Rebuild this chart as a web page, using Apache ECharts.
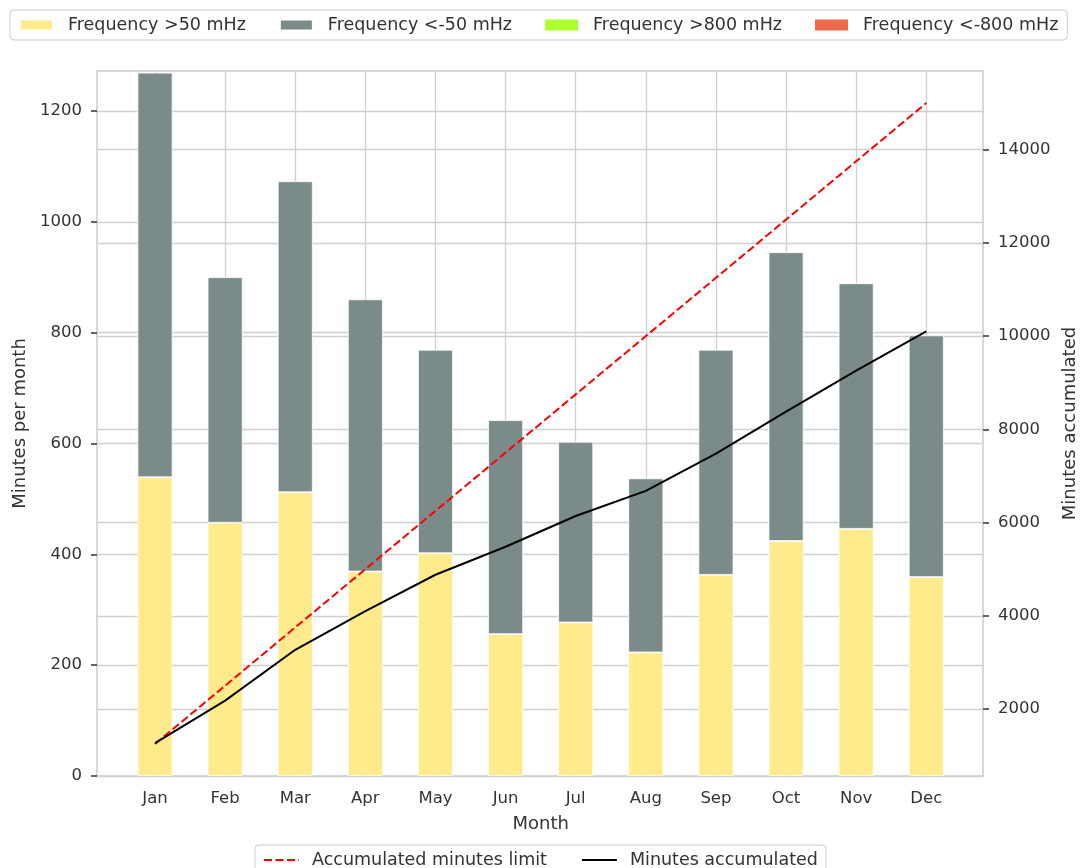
<!DOCTYPE html>
<html>
<head>
<meta charset="utf-8">
<script src="https://cdn.jsdelivr.net/npm/echarts@6/dist/echarts.min.js"></script>
<style>
  html, body { margin: 0; padding: 0; background: #fff; }
  #chart { width: 1080px; height: 868px; }
</style>
</head>
<body>
<div id="chart"></div>
<script>
// 月份 / 数据
const months = ['Jan', 'Feb', 'Mar', 'Apr', 'May', 'Jun', 'Jul', 'Aug', 'Sep', 'Oct', 'Nov', 'Dec'];
const freqOver50 = [539, 457, 512, 369, 402, 256, 277, 223, 363, 424, 446, 359];
const freqUnder50 = [730, 443, 561, 491, 367, 386, 326, 314, 406, 521, 443, 436];
const freqOver800 = [0, 0, 0, 0, 0, 0, 0, 0, 0, 0, 0, 0];
const freqUnder800 = [0, 0, 0, 0, 0, 0, 0, 0, 0, 0, 0, 0];
const limitAccumulated = [1250, 2500, 3750, 5000, 6250, 7500, 8750, 10000, 11250, 12500, 13750, 15000];
const minutesAccumulated = [1270, 2180, 3270, 4100, 4880, 5480, 6140, 6680, 7480, 8380, 9260, 10100];
const leftTicks = [0, 200, 400, 600, 800, 1000, 1200];
const rightTicks = [2000, 4000, 6000, 8000, 10000, 12000, 14000];

const textColor = '#333';
const gridColor = '#d0d0d0';
const fontFamily = 'DejaVu Sans';

// axis ranges shared by the visible and the hidden axes
const leftMin = 0;
const leftMax = 1272;
const rightMin = 562.5;
const rightMax = 15687.5;

const chart = echarts.init(document.getElementById('chart'), null, { renderer: 'canvas' });

// 柱状图
const barSeries = (name, data, color, border) => ({
  name,
  type: 'bar',
  stack: 'freq',
  xAxisIndex: 2,
  yAxisIndex: 3,
  barWidth: 35,
  data,
  itemStyle: { color, borderColor: '#fff', borderWidth: border },
  z: 2,
});

const legendBase = {
  itemHeight: 11,
  borderColor: '#cccccc',
  borderWidth: 1,
  borderRadius: 4,
};

const option = {
  animation: false,
  backgroundColor: '#fff',
  textStyle: { fontFamily },
  grid: [
    // frame + y axes
    {
      left: 97, right: 97, top: 71, bottom: 92,
      show: true, borderColor: '#cccccc', borderWidth: 1.5,
      outerBoundsMode: 'none',
    },
    // vertical grid lines and month labels (Jan..Dec centres)
    {
      left: 155, right: 153.7, top: 71, bottom: 92,
      show: false,
      outerBoundsMode: 'none',
    },
    // bars and lines
    {
      left: 119.97, right: 118.67, top: 71, bottom: 92,
      show: false,
      outerBoundsMode: 'none',
    },
  ],
  legend: [
    Object.assign({}, legendBase, {
      data: ['Frequency >50 mHz', 'Frequency <-50 mHz', 'Frequency >800 mHz', 'Frequency <-800 mHz'],
      left: 10,
      top: 10,
      icon: 'rect',
      itemWidth: 33,
      itemGap: 33,
      padding: [6, 9],
      textStyle: { fontSize: 17.5, color: textColor, fontFamily, padding: [0, 0, 0, 10] },
    }),
    Object.assign({}, legendBase, {
      data: ['Accumulated minutes limit', 'Minutes accumulated'],
      left: 255,
      top: 845,
      itemWidth: 35,
      itemGap: 34,
      padding: [6, 8],
      itemStyle: { opacity: 0 },
      textStyle: { fontSize: 17.5, color: textColor, fontFamily, padding: [0, 0, 0, 8] },
    }),
  ],
  xAxis: [
    {
      type: 'value',
      gridIndex: 0,
      min: 0,
      max: 1,
      show: false,
    },
    {
      type: 'value',
      gridIndex: 1,
      min: 0,
      max: 11,
      interval: 1,
      axisLine: { show: false },
      axisTick: { show: false },
      axisLabel: {
        margin: 14,
        fontSize: 16.5,
        color: textColor,
        fontFamily,
        formatter: (v) => months[v] || '',
      },
      splitLine: { show: true, lineStyle: { color: gridColor, width: 1.3 } },
      name: 'Month',
      nameLocation: 'middle',
      nameGap: 39,
      nameTextStyle: { fontSize: 18, color: textColor, fontFamily },
    },
    {
      type: 'category',
      gridIndex: 2,
      data: months,
      boundaryGap: true,
      show: false,
    },
  ],
  yAxis: [
    {
      type: 'value',
      gridIndex: 0,
      position: 'left',
      min: leftMin,
      max: leftMax,
      interval: 200,
      axisLine: { show: false, onZero: false },
      axisTick: { show: true, length: 6, customValues: leftTicks, lineStyle: { color: textColor, width: 1.5 } },
      axisLabel: {
        customValues: leftTicks, margin: 15, fontSize: 16.5, color: textColor, fontFamily,
        formatter: (v) => String(v),
      },
      splitLine: { show: true, lineStyle: { color: gridColor, width: 1.3 } },
      name: 'Minutes per month',
      nameLocation: 'middle',
      nameGap: 60,
      nameTextStyle: { fontSize: 18, color: textColor, fontFamily },
    },
    {
      type: 'value',
      gridIndex: 0,
      position: 'right',
      min: rightMin,
      max: rightMax,
      splitNumber: 7,
      minInterval: 2000,
      maxInterval: 2000,
      axisLine: { show: false, onZero: false },
      axisTick: { show: true, length: 6, customValues: rightTicks, lineStyle: { color: textColor, width: 1.5 } },
      axisLabel: {
        customValues: rightTicks, margin: 15, fontSize: 16.5, color: textColor, fontFamily,
        formatter: (v) => String(v),
      },
      splitLine: { show: true, lineStyle: { color: gridColor, width: 1.3 } },
      name: 'Minutes accumulated',
      nameLocation: 'middle',
      nameGap: 70,
      nameTextStyle: { fontSize: 18, color: textColor, fontFamily },
    },
    {
      type: 'value',
      gridIndex: 1,
      min: 0,
      max: 1,
      show: false,
    },
    {
      type: 'value',
      gridIndex: 2,
      min: leftMin,
      max: leftMax,
      show: false,
    },
    {
      type: 'value',
      gridIndex: 2,
      min: rightMin,
      max: rightMax,
      show: false,
    },
  ],
  series: [
    barSeries('Frequency >50 mHz', freqOver50, '#ffeb8c', 0.8),
    barSeries('Frequency <-50 mHz', freqUnder50, '#7b8b89', 0.8),
    barSeries('Frequency >800 mHz', freqOver800, '#adff2f', 0),
    barSeries('Frequency <-800 mHz', freqUnder800, '#ee6a4f', 0),
    {
      name: 'Accumulated minutes limit',
      type: 'line',
      xAxisIndex: 2,
      yAxisIndex: 4,
      data: limitAccumulated,
      symbol: 'none',
      lineStyle: { color: '#ff0000', width: 2, type: [8, 3.5] },
      itemStyle: { color: '#ff0000' },
      z: 3,
    },
    {
      name: 'Minutes accumulated',
      type: 'line',
      xAxisIndex: 2,
      yAxisIndex: 4,
      data: minutesAccumulated,
      symbol: 'none',
      lineStyle: { color: '#000', width: 2 },
      itemStyle: { color: '#000' },
      z: 4,
    },
  ],
};

chart.setOption(option);
</script>
</body>
</html>
